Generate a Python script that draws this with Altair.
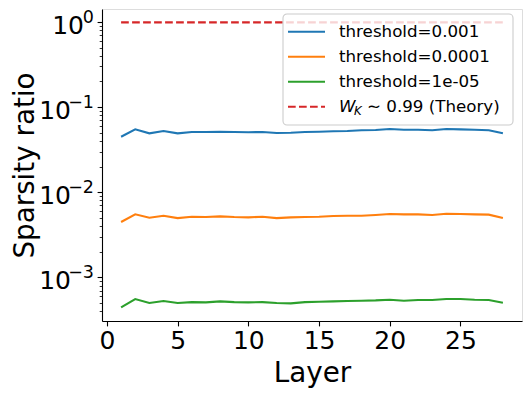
import altair as alt
import pandas as pd

layers = list(range(1, 29))
series_names = ["threshold=0.001", "threshold=0.0001", "threshold=1e-05"]
series_colors = ["#1f77b4", "#ff7f0e", "#2ca02c"]

thr_1e3 = [0.0449, 0.0548, 0.0492, 0.0524, 0.0492, 0.0510, 0.0510, 0.0514, 0.0510, 0.0506,
           0.0510, 0.0496, 0.0500, 0.0510, 0.0514, 0.0520, 0.0524, 0.0534, 0.0538, 0.0553,
           0.0543, 0.0543, 0.0534, 0.0553, 0.0548, 0.0543, 0.0534, 0.0492]
thr_1e4 = [0.00447, 0.00550, 0.00501, 0.00529, 0.00497, 0.00515, 0.00511, 0.00521, 0.00511, 0.00507,
           0.00515, 0.00497, 0.00507, 0.00511, 0.00515, 0.00525, 0.00529, 0.00529, 0.00540, 0.00555,
           0.00550, 0.00550, 0.00540, 0.00559, 0.00555, 0.00550, 0.00545, 0.00497]
thr_1e5 = [0.000444, 0.000556, 0.000499, 0.000527, 0.000499, 0.000512, 0.000508, 0.000522, 0.000512, 0.000508,
           0.000512, 0.000499, 0.000495, 0.000512, 0.000517, 0.000522, 0.000527, 0.000531, 0.000536, 0.000546,
           0.000531, 0.000541, 0.000541, 0.000556, 0.000556, 0.000546, 0.000541, 0.000503]
theory_value = 0.99

x_ticks = [0, 5, 10, 15, 20, 25]
y_major = [1.0, 0.1, 0.01, 0.001]
y_major_exp = ["0", "−1", "−2", "−3"]

rows = []
for name, vals in zip(series_names, [thr_1e3, thr_1e4, thr_1e5]):
    for l, v in zip(layers, vals):
        rows.append({"layer": l, "value": v, "series": name})
df = pd.DataFrame(rows)
df_theory = pd.DataFrame({"layer": layers, "value": [theory_value] * len(layers)})
df_major = pd.DataFrame({"value": y_major, "exp": y_major_exp})

y_vals = []
for k in range(-4, 1):
    for m in range(1, 10):
        v = float(f"{m}e{k}")
        if 0.000307 <= v <= 1.42:
            y_vals.append(v)

FONT = "DejaVu Sans"
major_test = "indexof([1,0.1,0.01,0.001], datum.value) >= 0"

xscale = alt.Scale(domain=[-0.35, 29.35], nice=False, zero=False)
yscale = alt.Scale(type="log", domain=[0.000307, 1.421], nice=False)

xaxis = alt.Axis(values=x_ticks, title="Layer", titleFontSize=27.8, titleFont=FONT,
                 titleFontWeight="normal", titleColor="black", titlePadding=6,
                 labelFontSize=25, labelFont=FONT, labelColor="black", labelPadding=3,
                 tickSize=4.9, tickWidth=1.1, tickColor="black", domainColor="black",
                 domainWidth=1.1, grid=False, labelFlush=False, format="d")
yaxis = alt.Axis(values=y_vals, labels=False, title="Sparsity ratio",
                 titleFontSize=27.8, titleFont=FONT, titleFontWeight="normal", titleColor="black",
                 titleX=-91, titleY=156, titleAngle=270, titleAlign="center", titleBaseline="top",
                 tickSize={"condition": {"test": major_test, "value": 4.9}, "value": 2.8},
                 tickWidth={"condition": {"test": major_test, "value": 1.1}, "value": 0.8},
                 tickColor="black", domainColor="black", domainWidth=1.1, grid=False)

lines = alt.Chart(df).mark_line(strokeWidth=2.1).encode(
    x=alt.X("layer:Q", scale=xscale, axis=xaxis),
    y=alt.Y("value:Q", scale=yscale, axis=yaxis),
    color=alt.Color("series:N", scale=alt.Scale(domain=series_names, range=series_colors), legend=None),
)
theory = alt.Chart(df_theory).mark_line(strokeWidth=2.1, color="#d62728", strokeDash=[7.7, 3.3]).encode(
    x=alt.X("layer:Q", scale=xscale, axis=xaxis),
    y=alt.Y("value:Q", scale=yscale, axis=yaxis),
)

# y tick labels: "10" with a superscript exponent, right-aligned next to the ticks
base_lab = alt.Chart(df_major).transform_calculate(
    xb="datum.exp == '0' ? -18 : -31"
).mark_text(text="10", font=FONT, fontSize=25, align="right", baseline="middle", color="black", dy=4).encode(
    x=alt.X("xb:Q", scale=None),
    y=alt.Y("value:Q", scale=yscale, axis=yaxis),
)
exp_lab = alt.Chart(df_major).mark_text(font=FONT, fontSize=17.5, align="right", baseline="middle",
                                        color="black", dy=-4).encode(
    x=alt.value(-8),
    y=alt.Y("value:Q", scale=yscale, axis=yaxis),
    text="exp:N",
)

one = alt.Data(values=[{}])
legend_layers = [
    alt.Chart(one).mark_rect(fill="white", fillOpacity=0.8, stroke="#cccccc", strokeWidth=1.1,
                             cornerRadius=4).encode(
        x=alt.value(181), x2=alt.value(411), y=alt.value(5), y2=alt.value(116))
]
legend_entries = [
    ("threshold=0.001", "#1f77b4", None),
    ("threshold=0.0001", "#ff7f0e", None),
    ("threshold=1e-05", "#2ca02c", None),
    (None, "#d62728", [7.7, 3.3]),
]
row_y = [22.7, 47.7, 72.7, 97.7]
for (lab, col, dash), yy in zip(legend_entries, row_y):
    kw = dict(color=col, strokeWidth=2.1)
    if dash:
        kw["strokeDash"] = dash
    legend_layers.append(alt.Chart(one).mark_rule(**kw).encode(
        x=alt.value(186), x2=alt.value(223), y=alt.value(yy)))
    if lab:
        legend_layers.append(alt.Chart(one).mark_text(
            text=lab, font=FONT, fontSize=16.7, align="left", baseline="middle", color="black"
        ).encode(x=alt.value(237), y=alt.value(yy)))
    else:
        legend_layers.append(alt.Chart(one).mark_text(
            text="W", font=FONT, fontSize=16.7, fontStyle="italic", align="left", baseline="middle",
            color="black").encode(x=alt.value(237), y=alt.value(yy)))
        legend_layers.append(alt.Chart(one).mark_text(
            text="K", font=FONT, fontSize=11.7, fontStyle="italic", align="left", baseline="middle",
            color="black").encode(x=alt.value(252), y=alt.value(yy + 4)))
        legend_layers.append(alt.Chart(one).mark_text(
            text="∼ 0.99 (Theory)", font=FONT, fontSize=16.7, align="left", baseline="middle",
            color="black").encode(x=alt.value(265), y=alt.value(yy)))

chart = alt.layer(lines, theory, base_lab, exp_lab, *legend_layers).properties(
    width=420, height=312,
    autosize=alt.AutoSizeParams(type="none"),
    padding={"left": 94, "top": 1, "right": 1, "bottom": 72},
).configure_view(stroke="black", strokeWidth=1.1).configure(background="white")

chart.save("out.html", embed_options={"renderer": "svg", "actions": False})
